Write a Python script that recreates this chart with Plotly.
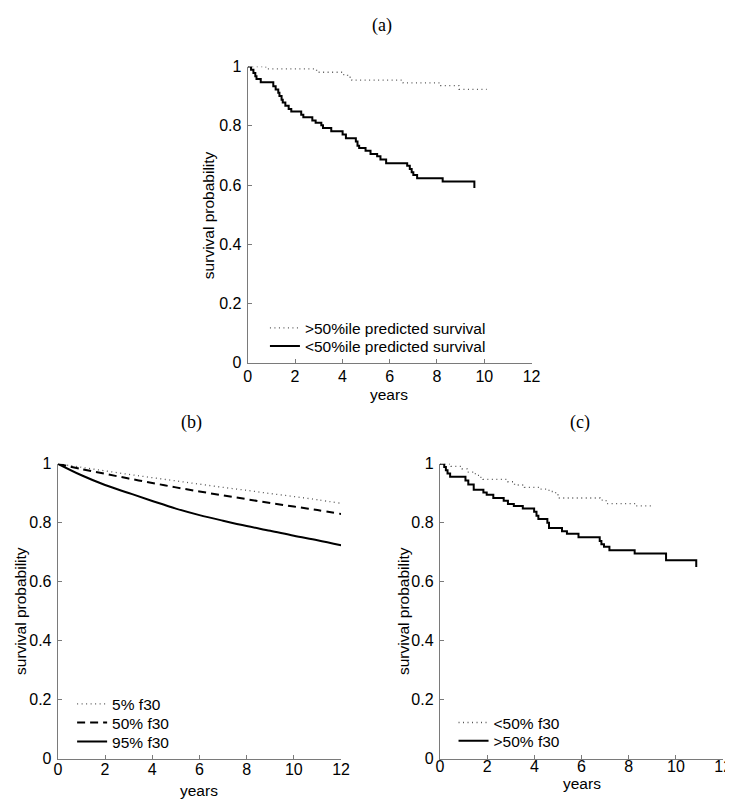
import plotly.graph_objects as go

# ---------------- data ----------------
# (a) Kaplan-Meier curves by predicted survival
a_high_years = [0, 0.76, 2.91, 4.01, 4.22, 4.40, 6.57, 8.16, 8.93, 10.1]
a_high_surv = [1.0, 0.992, 0.981, 0.973, 0.964, 0.954, 0.945, 0.936, 0.923, 0.923]

a_low_years = [0, 0.14, 0.24, 0.32, 0.37, 0.55, 1.08, 1.18, 1.29, 1.34, 1.43, 1.48, 1.59,
               1.73, 1.84, 2.26, 2.35, 2.73, 2.87, 3.11, 3.18, 3.53, 4.01, 4.15, 4.57,
               4.64, 4.71, 4.98, 5.19, 5.47, 5.61, 5.85, 6.74, 6.85, 6.93, 7.00, 7.16,
               8.24, 9.58]
a_low_surv = [1.0, 0.989, 0.978, 0.967, 0.958, 0.947, 0.934, 0.923, 0.912, 0.901, 0.888,
              0.879, 0.868, 0.857, 0.848, 0.837, 0.829, 0.818, 0.810, 0.802, 0.793, 0.782,
              0.771, 0.758, 0.747, 0.733, 0.725, 0.716, 0.705, 0.697, 0.686, 0.674, 0.665,
              0.654, 0.643, 0.634, 0.623, 0.612, 0.590]

# (b) model-predicted survival by f30 percentile
b_years = [0, 1, 2, 3, 4, 5, 6, 7, 8, 9, 10, 11, 12]
b_f30_5 = [1.0, 0.988, 0.976, 0.964, 0.953, 0.942, 0.931, 0.920, 0.910, 0.899, 0.889, 0.878, 0.866]
b_f30_50 = [1.0, 0.982, 0.966, 0.950, 0.935, 0.920, 0.906, 0.893, 0.880, 0.867, 0.855, 0.843, 0.830]
b_f30_95 = [1.0, 0.961, 0.928, 0.901, 0.874, 0.848, 0.826, 0.807, 0.789, 0.773, 0.756, 0.741, 0.724]

# (c) Kaplan-Meier curves by f30
c_low_years = [0, 0.46, 0.94, 1.15, 1.50, 1.70, 1.82, 2.88, 3.16, 3.58, 4.20, 4.62, 4.90,
               5.03, 6.78, 7.04, 8.30, 9.00]
c_low_surv = [1.0, 0.991, 0.983, 0.972, 0.961, 0.954, 0.947, 0.939, 0.928, 0.920, 0.914,
              0.906, 0.895, 0.884, 0.877, 0.865, 0.857, 0.857]

c_high_years = [0, 0.18, 0.25, 0.32, 0.43, 1.08, 1.20, 1.43, 1.84, 1.98, 2.26, 2.70, 2.88,
                3.13, 3.51, 3.99, 4.09, 4.17, 4.55, 4.62, 5.17, 5.38, 5.87, 6.77, 6.84,
                6.95, 7.18, 8.25, 9.58, 10.86]
c_high_surv = [1.0, 0.989, 0.978, 0.967, 0.956, 0.943, 0.930, 0.912, 0.903, 0.895, 0.884,
               0.875, 0.864, 0.857, 0.848, 0.837, 0.824, 0.813, 0.800, 0.782, 0.771, 0.763,
               0.751, 0.738, 0.727, 0.719, 0.707, 0.696, 0.673, 0.650]

x_ticks = [0, 2, 4, 6, 8, 10, 12]
y_ticks = [0, 0.2, 0.4, 0.6, 0.8, 1]
y_tick_text = ["0", "0.2", "0.4", "0.6", "0.8", "1"]
panel_titles = ["(a)", "(b)", "(c)"]

# ---------------- figure ----------------
W, H = 733, 799
SANS = "Liberation Sans, Arial, sans-serif"
SERIF = "Liberation Serif, Times New Roman, serif"
AXC = "#7a7a7a"
DOT = dict(color="#555555", width=1.3, dash="1px,3.5px")
SOLID = dict(color="black", width=2)
DASH = dict(color="black", width=2, dash="8px,5px")


def px_x(p):
    return p / W


def px_y(p):
    return 1 - p / H


# one legend per entry so each entry can be placed where the reference has it
# (legend id, text-start x px, center y px)
legend_spots = {
    "legend": (298, 319.0),
    "legend2": (298, 337.7),
    "legend3": (101.7, 703.3),
    "legend4": (101.7, 722.3),
    "legend5": (101.7, 741.7),
    "legend6": (490, 722.3),
    "legend7": (490, 741.0),
}

fig = go.Figure()

# panel (a)
fig.add_trace(go.Scatter(x=a_high_years, y=a_high_surv, mode="lines", line=DOT,
                         line_shape="hv", name=">50%ile predicted survival",
                         xaxis="x", yaxis="y", legend="legend"))
fig.add_trace(go.Scatter(x=a_low_years, y=a_low_surv, mode="lines", line=SOLID,
                         line_shape="hv", name="<50%ile predicted survival",
                         xaxis="x", yaxis="y", legend="legend2"))
# panel (b)
fig.add_trace(go.Scatter(x=b_years, y=b_f30_5, mode="lines", line=DOT, line_shape="spline",
                         name="5% f30", xaxis="x2", yaxis="y2", legend="legend3"))
fig.add_trace(go.Scatter(x=b_years, y=b_f30_50, mode="lines", line=DASH, line_shape="spline",
                         name="50% f30", xaxis="x2", yaxis="y2", legend="legend4"))
fig.add_trace(go.Scatter(x=b_years, y=b_f30_95, mode="lines", line=SOLID, line_shape="spline",
                         name="95% f30", xaxis="x2", yaxis="y2", legend="legend5"))
# panel (c)
fig.add_trace(go.Scatter(x=c_low_years, y=c_low_surv, mode="lines", line=DOT,
                         line_shape="hv", name="<50% f30",
                         xaxis="x3", yaxis="y3", legend="legend6"))
fig.add_trace(go.Scatter(x=c_high_years, y=c_high_surv, mode="lines", line=SOLID,
                         line_shape="hv", name=">50% f30",
                         xaxis="x3", yaxis="y3", legend="legend7"))

axis_common = dict(showgrid=False, zeroline=False, showline=True, linecolor=AXC,
                   linewidth=1.3, ticks="inside", ticklen=4, tickcolor=AXC, tickwidth=1,
                   tickfont=dict(family=SANS, size=16, color="black"), mirror=False)

# pixel boxes (left, right, top, bottom) and x tick label standoff
boxes = {
    "a": (240, 529, 51.7, 354.3, -1),
    "b": (46.7, 335, 457.5, 759, -4),
    "c": (435.7, 724, 457.5, 759, -7),
}
suffix = {"a": "", "b": "2", "c": "3"}
layout = dict(width=W, height=H, margin=dict(l=0, r=0, t=0, b=0),
              paper_bgcolor="white", plot_bgcolor="white", showlegend=True)
for k, (l, r, t, b, sto) in boxes.items():
    s = suffix[k]
    layout["xaxis" + s] = dict(axis_common, domain=[px_x(l), px_x(r)], range=[0, 12],
                               tickvals=x_ticks, anchor="y" + s, ticklabelstandoff=sto)
    layout["yaxis" + s] = dict(axis_common, domain=[px_y(b), px_y(t)], range=[0, 1],
                               tickvals=y_ticks, ticktext=y_tick_text, anchor="x" + s,
                               ticklabelstandoff=2)

leg_common = dict(font=dict(family=SANS, size=15.5, color="black"),
                  bgcolor="rgba(0,0,0,0)", borderwidth=0, xanchor="left",
                  yanchor="middle", itemwidth=30)
for name, (tx, cy) in legend_spots.items():
    layout[name] = dict(leg_common, x=px_x(tx - 40.5), y=px_y(cy))
fig.update_layout(**layout)

# panel titles
title_pos = [(377, 10), (183, 415), (578, 415)]
for txt, (x, y) in zip(panel_titles, title_pos):
    fig.add_annotation(text=txt, x=px_x(x), y=px_y(y), xref="paper", yref="paper",
                       showarrow=False, xanchor="center", yanchor="middle",
                       font=dict(family=SERIF, size=18, color="black"))

# axis titles
ylab_pos = [(200, 203), (8, 608), (398, 608)]
for (x, y) in ylab_pos:
    fig.add_annotation(text="survival probability", x=px_x(x), y=px_y(y), xref="paper",
                       yref="paper", showarrow=False, textangle=-90, xanchor="center",
                       yanchor="middle", font=dict(family=SANS, size=15.5, color="black"))
xlab_pos = [(384, 387), (190, 791), (580, 784)]
for (x, y) in xlab_pos:
    fig.add_annotation(text="years", x=px_x(x), y=px_y(y), xref="paper", yref="paper",
                       showarrow=False, xanchor="center", yanchor="middle", borderpad=0,
                       font=dict(family=SANS, size=15.5, color="black"))

fig.write_html("out.html", config={"displayModeBar": False})
